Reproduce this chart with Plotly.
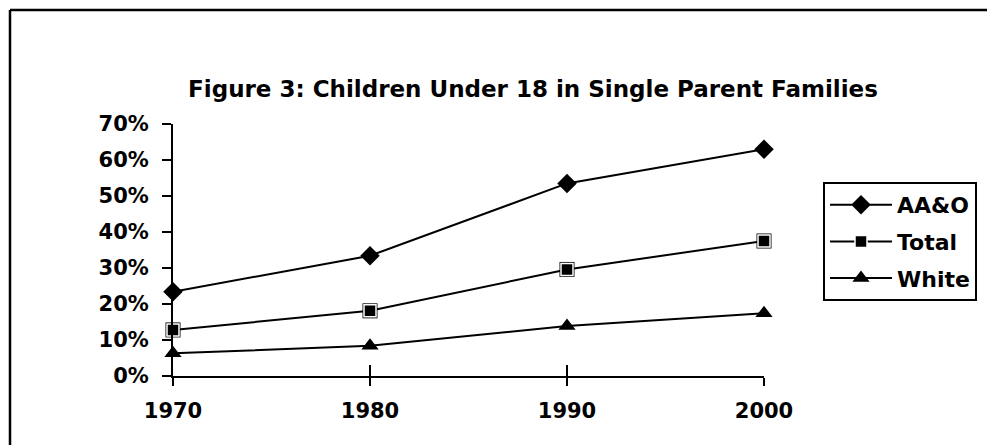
import plotly.graph_objects as go

years = [1970, 1980, 1990, 2000]
aao = [0.234, 0.334, 0.535, 0.630]
total = [0.128, 0.181, 0.296, 0.375]
white = [0.063, 0.084, 0.139, 0.174]
series_names = ["AA&O", "Total", "White"]
title_text = "Figure 3: Children Under 18 in Single Parent Families"

FONT = "DejaVu Sans"
OFF = 8  # page body margin

fig = go.Figure()

# underlay for the square markers (black outer edge)
fig.add_trace(go.Scatter(x=years, y=total, mode="markers", showlegend=False,
                         hoverinfo="skip", cliponaxis=False,
                         marker=dict(symbol="square", size=15, color="black")))

fig.add_trace(go.Scatter(x=years, y=aao, name="<b>" + series_names[0] + "</b>",
                         mode="lines+markers", legendgroup="a", cliponaxis=False,
                         line=dict(color="black", width=2),
                         marker=dict(symbol="diamond", size=15, color="black")))
fig.add_trace(go.Scatter(x=years, y=total, name="<b>" + series_names[1] + "</b>",
                         mode="lines+markers", legendgroup="b", cliponaxis=False,
                         line=dict(color="black", width=2),
                         marker=dict(symbol="square", size=12, color="black",
                                     line=dict(color="white", width=1.5))))
fig.add_trace(go.Scatter(x=years, y=white, name="<b>" + series_names[2] + "</b>",
                         mode="lines+markers", legendgroup="c", cliponaxis=False,
                         line=dict(color="black", width=2),
                         marker=dict(symbol="triangle-up", size=15, color="black")))

W, H = 995 - OFF, 445 - OFF
L, R, T, B = 173 - OFF, 764 - OFF, 124 - OFF, 376 - OFF
pw, ph = R - L, B - T


def px(x):
    return (x - OFF - L) / pw


def py(y):
    return (B - (y - OFF)) / ph


fig.update_layout(
    width=W, height=H,
    margin=dict(l=L, r=W - R, t=T, b=H - B, pad=0),
    paper_bgcolor="white", plot_bgcolor="white",
    font=dict(family=FONT, color="black", size=21),
    title=dict(text="<b>" + title_text + "</b>", xref="container", yref="container",
               x=(533 - OFF) / W, y=1 - (89 - OFF) / H, xanchor="center", yanchor="middle",
               font=dict(family=FONT, size=23, color="black")),
    xaxis=dict(range=[1970, 2000], tickvals=years,
               ticktext=["<b>%d</b>" % y for y in years],
               showgrid=False, zeroline=False, showline=True, linecolor="black",
               linewidth=2, ticks="outside", ticklen=8, tickwidth=2, tickcolor="black",
               ticklabelstandoff=7, tickfont=dict(family=FONT, size=21)),
    xaxis2=dict(range=[1970, 2000], tickvals=years, overlaying="x", side="bottom",
                showticklabels=False, showgrid=False, zeroline=False, showline=False,
                ticks="inside", ticklen=11, tickwidth=2, tickcolor="black"),
    yaxis=dict(range=[0, 0.7],
               tickvals=[i / 10 for i in range(8)],
               ticktext=["<b>%d%%</b>" % (i * 10) for i in range(8)],
               showgrid=False, zeroline=False, showline=True, linecolor="black",
               linewidth=2, ticks="outside", ticklen=9, tickwidth=2, tickcolor="black",
               ticklabelstandoff=9, tickfont=dict(family=FONT, size=21)),
    legend=dict(x=px(823), y=py(182), xanchor="left", yanchor="top",
                bordercolor="black", borderwidth=2, bgcolor="white",
                font=dict(family=FONT, size=22, color="black"),
                traceorder="grouped", tracegroupgap=5, itemwidth=62),
    showlegend=True,
    shapes=[
        dict(type="line", xref="paper", yref="paper", x0=px(10), x1=px(1100),
             y0=py(10), y1=py(10), line=dict(color="black", width=2.5)),
        dict(type="line", xref="paper", yref="paper", x0=px(10), x1=px(10),
             y0=py(10), y1=py(500), line=dict(color="black", width=2.5)),
    ],
)

# invisible trace on xaxis2 so the overlay axis (crossing ticks) is drawn
fig.add_trace(go.Scatter(x=[years[0]], y=[aao[0]], xaxis="x2", mode="markers",
                         marker=dict(opacity=0), showlegend=False, hoverinfo="skip"))

fig.write_html("out.html")
